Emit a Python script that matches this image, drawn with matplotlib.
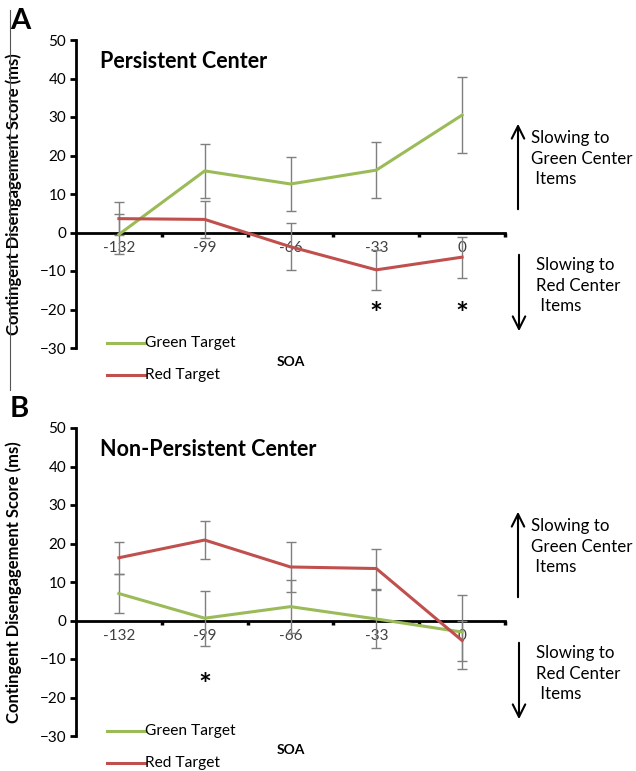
import matplotlib.pyplot as plt
from matplotlib.lines import Line2D
from matplotlib.patches import FancyArrowPatch

plt.rcParams['font.family'] = ['Lato', 'DejaVu Sans']

W, H = 636, 771

soa = ["-132", "-99", "-66", "-33", "0"]

# Panel A: Persistent Center
a_green = [-0.5, 16.0, 12.6, 16.2, 30.5]
a_green_err = [5.2, 7.1, 6.9, 7.3, 9.8]
a_red = [3.6, 3.4, -3.7, -9.7, -6.4]
a_red_err = [4.2, 4.9, 6.1, 5.2, 5.3]
a_stars = [3, 4]

# Panel B: Non-Persistent Center
b_green = [7.0, 0.6, 3.6, 0.4, -3.0]
b_green_err = [5.0, 7.1, 6.9, 7.5, 9.7]
b_red = [16.3, 20.9, 13.9, 13.5, -5.2]
b_red_err = [4.2, 5.0, 6.4, 5.2, 5.2]
b_stars = [1]

green = "#9BBB59"
red = "#C0504D"


def fx(px):
    return px / W


def fy(py):
    return 1 - py / H


def panel(top, title, letter, g, g_err, r, r_err, stars, star_y):
    ax = fig.add_axes([fx(76), fy(top + 308), fx(429), 308 / H])
    x = list(range(len(soa)))
    ax.errorbar(x, g, yerr=g_err, color=green, lw=2.2, ecolor="#7f7f7f",
                elinewidth=1, capsize=3.5, capthick=1, zorder=3)
    ax.errorbar(x, r, yerr=r_err, color=red, lw=2.2, ecolor="#7f7f7f",
                elinewidth=1, capsize=3.5, capthick=1, zorder=3)
    for i in stars:
        ax.text(i, star_y, "*", ha="center", va="center", fontsize=22,
                fontweight="bold")

    ax.set_xlim(-0.5, 4.5)
    ax.set_ylim(-30, 50)
    ax.spines["top"].set_visible(False)
    ax.spines["right"].set_visible(False)
    ax.spines["left"].set_linewidth(2)
    ax.spines["bottom"].set_linewidth(2)
    ax.spines["bottom"].set_position(("data", 0))
    ax.set_yticks(range(-30, 51, 10))
    ax.tick_params(axis="y", direction="out", length=4, width=2, labelsize=11, pad=3)
    ax.set_xticks([0.5, 1.5, 2.5, 3.5, 4.5])
    ax.set_xticklabels([])
    ax.tick_params(axis="x", which="major", direction="out", length=3, width=2.5)
    ax.set_xticks(x, minor=True)
    ax.set_xticklabels(soa, minor=True)
    ax.tick_params(axis="x", which="minor", length=0, labelsize=11, pad=6,
                   labelcolor="#404040")
    ax.patch.set_alpha(0)

    ax.set_ylabel("Contingent Disengagement Score (ms)", fontsize=12,
                  fontweight="bold", labelpad=4)
    ax.yaxis.set_label_coords(fx(22 - 76) / fx(429), 0.5)

    fig.text(fx(100), fy(top + 22), title, fontsize=15.5, fontweight="bold",
             va="center", ha="left")
    fig.text(fx(10), fy(top - 19), letter, fontsize=21, fontweight="bold",
             va="center", ha="left")
    fig.text(fx(291), fy(top + 322), "SOA", fontsize=10, fontweight="bold",
             va="center", ha="center")

    # legend
    for k, (c, lab) in enumerate([(green, "Green Target"), (red, "Red Target")]):
        yy = fy(top + 303 + 32 * k)
        fig.add_artist(Line2D([fx(107), fx(145)], [yy, yy], color=c, lw=2.2))
        fig.text(fx(145), yy, lab, fontsize=11.2, va="center", ha="left")

    # side arrows and notes
    fig.add_artist(FancyArrowPatch((fx(518), fy(top + 172)), (fx(518), fy(top + 81)),
                                   transform=fig.transFigure,
                                   arrowstyle="->,head_width=0.25,head_length=0.5",
                                   mutation_scale=18, lw=1.5, color="black"))
    fig.add_artist(FancyArrowPatch((fx(519), fy(top + 212)), (fx(519), fy(top + 294)),
                                   transform=fig.transFigure,
                                   arrowstyle="->,head_width=0.25,head_length=0.5",
                                   mutation_scale=18, lw=1.5, color="black"))
    fig.text(fx(531), fy(top + 90), "Slowing to\nGreen Center\n Items",
             fontsize=12.2, va="top", ha="left", linespacing=1.35)
    fig.text(fx(536), fy(top + 217), "Slowing to\nRed Center\n Items",
             fontsize=12.2, va="top", ha="left", linespacing=1.35)
    return ax


fig = plt.figure(figsize=(W / 100, H / 100), dpi=100)

panel(40, "Persistent Center", "A", a_green, a_green_err, a_red, a_red_err,
      a_stars, -21.5)
panel(428, "Non-Persistent Center", "B", b_green, b_green_err, b_red, b_red_err,
      b_stars, -17)

# thin frame line at left of panel A
fig.add_artist(Line2D([fx(10), fx(10)], [fy(10), fy(390)], color="#555555", lw=0.8))

fig.savefig("out.png", dpi=100)
